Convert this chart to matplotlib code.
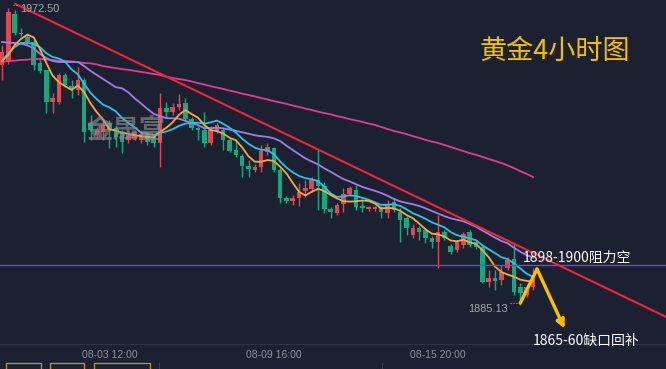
import numpy as np
import pandas as pd
import matplotlib
matplotlib.use("Agg")
import matplotlib.pyplot as plt
from matplotlib import font_manager as fm
from matplotlib.patches import Rectangle
from matplotlib.lines import Line2D

# 黄金 4小时 K线 (价格从图上估读)
opens = [1955.7, 1956.6, 1970.8, 1965.1, 1964.0, 1962.5, 1956.3, 1954.2, 1944.8, 1944.8,
         1952.8, 1949.5, 1948.4, 1951.3, 1938.7, 1935.1, 1936.0, 1938.7, 1937.2, 1935.7,
         1933.7, 1934.2, 1933.7, 1935.1, 1934.5, 1932.8, 1943.1, 1941.9, 1943.4, 1944.5,
         1939.8, 1937.2, 1936.6, 1932.8, 1936.3, 1936.6, 1933.7, 1930.7, 1929.0, 1926.0,
         1924.8, 1925.7, 1930.1, 1931.3, 1924.8, 1916.6, 1915.7, 1916.6, 1918.7, 1919.2,
         1921.9, 1920.1, 1913.4, 1912.2, 1914.8, 1917.8, 1919.0, 1914.2, 1913.4, 1913.4,
         1913.6, 1912.2, 1915.4, 1912.5, 1910.7, 1905.7, 1907.8, 1907.2, 1904.8, 1903.6,
         1906.6, 1902.5, 1901.3, 1902.8, 1906.6, 1903.6, 1902.2, 1891.9, 1893.1, 1892.5,
         1896.0, 1898.6, 1890.4, 1888.1, 1890.4]
highs = [1961.6, 1972.5, 1972.0, 1966.6, 1965.1, 1963.1, 1957.2, 1954.4, 1947.5, 1953.4,
         1953.4, 1951.3, 1955.1, 1951.9, 1941.0, 1937.5, 1939.5, 1939.5, 1938.1, 1936.6,
         1935.7, 1936.6, 1936.6, 1936.0, 1935.4, 1947.5, 1944.8, 1944.5, 1947.2, 1946.0,
         1940.4, 1937.8, 1941.9, 1937.8, 1938.7, 1937.2, 1934.2, 1933.7, 1929.5, 1927.8,
         1926.6, 1932.2, 1932.8, 1931.6, 1925.4, 1917.2, 1917.5, 1921.0, 1921.9, 1922.8,
         1930.7, 1921.3, 1913.9, 1915.1, 1919.5, 1920.1, 1920.4, 1916.0, 1914.2, 1914.2,
         1914.2, 1916.0, 1916.6, 1913.6, 1911.3, 1909.0, 1908.4, 1907.8, 1905.4, 1911.6,
         1907.2, 1903.1, 1904.2, 1906.6, 1907.2, 1904.2, 1902.8, 1895.4, 1895.4, 1896.9,
         1899.2, 1903.4, 1891.6, 1891.0, 1896.0]
lows = [1951.3, 1956.0, 1964.5, 1964.3, 1961.6, 1954.2, 1953.4, 1941.6, 1941.6, 1944.2,
        1949.2, 1946.0, 1946.9, 1933.1, 1933.7, 1934.2, 1933.7, 1931.3, 1931.6, 1929.8,
        1932.8, 1933.7, 1932.8, 1932.2, 1931.6, 1925.7, 1940.1, 1941.0, 1942.5, 1939.2,
        1936.6, 1933.7, 1931.6, 1932.2, 1935.7, 1930.7, 1930.1, 1928.7, 1922.8, 1922.8,
        1924.2, 1924.2, 1929.2, 1924.2, 1915.1, 1915.1, 1914.5, 1914.2, 1916.9, 1918.4,
        1913.1, 1912.2, 1910.7, 1911.6, 1912.5, 1917.2, 1913.1, 1912.5, 1912.8, 1912.8,
        1910.7, 1910.7, 1912.5, 1903.6, 1905.7, 1904.8, 1904.2, 1903.4, 1901.9, 1896.0,
        1904.2, 1900.1, 1900.7, 1901.9, 1902.2, 1901.6, 1891.6, 1890.4, 1889.5, 1891.0,
        1895.4, 1888.1, 1885.13, 1887.5, 1889.5]
closes = [1959.5, 1971.3, 1965.1, 1964.8, 1962.5, 1955.7, 1954.0, 1944.8, 1946.0, 1952.8,
          1949.8, 1948.6, 1951.3, 1936.0, 1936.6, 1936.6, 1938.1, 1936.6, 1934.5, 1933.1,
          1935.1, 1936.0, 1935.4, 1933.1, 1932.8, 1943.1, 1941.9, 1943.4, 1944.2, 1939.8,
          1937.2, 1936.6, 1932.8, 1936.6, 1938.1, 1933.7, 1930.4, 1929.2, 1926.0, 1925.1,
          1925.7, 1930.4, 1931.6, 1924.8, 1916.6, 1915.7, 1916.6, 1918.4, 1919.5, 1921.9,
          1920.1, 1913.4, 1912.5, 1914.5, 1917.8, 1919.5, 1913.9, 1913.6, 1913.9, 1913.9,
          1912.5, 1914.5, 1913.1, 1910.1, 1907.8, 1907.8, 1906.6, 1904.8, 1903.6, 1906.6,
          1904.8, 1900.7, 1903.6, 1906.0, 1902.8, 1902.2, 1891.9, 1893.1, 1892.2, 1894.8,
          1898.4, 1888.9, 1888.6, 1890.4, 1893.9]

# 均线开头几根 (之前的K线不在图内, 直接从图上读)
ma5_head = [1956.9, 1958.7, 1961.6, 1963.4]
ma10_head = [1956.9, 1959.2, 1961.0, 1962.2, 1962.2, 1961.9, 1961.0, 1959.2, 1958.1]
ma20_head = [1962.5, 1962.3, 1962.2, 1962.0, 1961.5, 1960.7, 1959.0, 1957.8, 1956.9, 1956.6,
             1956.6, 1956.6, 1956.6, 1955.4, 1954.0, 1952.8, 1951.6, 1950.4, 1949.2]
# 长期均线 (粉色)
ma_long = [1956.6, 1956.9, 1957.0, 1957.2, 1957.3, 1957.5, 1957.5, 1957.3, 1957.2, 1957.0,
           1956.9, 1956.8, 1956.6, 1956.3, 1956.2, 1955.9, 1955.4, 1955.1, 1954.8, 1954.5,
           1954.3, 1954.0, 1953.7, 1953.4, 1953.1, 1952.8, 1952.3, 1951.9, 1951.6, 1951.3,
           1950.9, 1950.4, 1950.0, 1949.5, 1949.1, 1948.7, 1948.2, 1947.8, 1947.3, 1946.9,
           1946.5, 1946.0, 1945.6, 1945.1, 1944.7, 1944.3, 1943.8, 1943.4, 1942.9, 1942.5,
           1942.0, 1941.6, 1941.2, 1940.7, 1940.3, 1939.8, 1939.4, 1939.0, 1938.5, 1938.1,
           1937.5, 1936.9, 1936.3, 1935.9, 1935.4, 1934.8, 1934.3, 1933.7, 1933.2, 1932.8,
           1932.2, 1931.6, 1931.0, 1930.4, 1929.8, 1929.3, 1928.7, 1928.1, 1927.5, 1926.9,
           1926.2, 1925.4, 1924.5, 1923.7, 1922.8]

tick_pos = [17, 43, 69]
tick_labels = ['08-03 12:00', '08-09 16:00', '08-15 20:00']

trend_x = [2.1, 105.1]          # 下降趋势线
trend_y = [1973.7, 1881.6]
resist = 1897.0                 # 水平阻力线
arrow_x = [82.0, 84.65, 89.0]   # 黄色箭头路径
arrow_y = [1885.7, 1895.7, 1878.2]

bg = '#1b2130'
up_c = '#e04852'
dn_c = '#18a781'

names = {f.name for f in fm.fontManager.ttflist}
narrow = 'Liberation Sans Narrow' if 'Liberation Sans Narrow' in names else 'Liberation Sans'
cjk = ['Noto Sans CJK SC', 'DejaVu Sans']

fig = plt.figure(figsize=(6.66, 3.69), dpi=100, facecolor=bg)
ax = fig.add_axes([0, 25 / 369, 1, 344 / 369])
ax.set_facecolor(bg)

n = len(closes)
x = np.arange(n)
o = np.array(opens)
c = np.array(closes)
cols = [up_c if cc >= oo else dn_c for oo, cc in zip(o, c)]

ax.vlines(x, lows, highs, colors=cols, linewidth=1.0, zorder=2)
body = np.maximum(np.abs(c - o), 0.4)
ax.bar(x, body, bottom=np.minimum(o, c), width=0.72, color=cols, linewidth=0, zorder=3)

s = pd.Series(closes)
ma5 = s.rolling(5).mean().values
ma5[:4] = ma5_head
ma10 = s.rolling(10).mean().values
ma10[:9] = ma10_head
ma20 = s.rolling(20).mean().values
ma20[:19] = ma20_head

ax.plot(x, ma_long, color='#e23c90', lw=1.3, zorder=4)
ax.plot(x, ma20, color='#a07de6', lw=1.3, zorder=4)
ax.plot(x, ma10, color='#2ac3e8', lw=1.3, zorder=4)
ax.plot(x, ma5, color='#f6a93b', lw=1.3, zorder=4)

ax.axhline(resist, color='#6c4fc8', lw=1.0, zorder=4)
ax.plot(trend_x, trend_y, color='#f0243a', lw=1.5, zorder=5)

# 箭头
ax.plot(arrow_x[:2], arrow_y[:2], color='#ffbf00', lw=2.4, zorder=6, solid_capstyle='round')
ax.annotate('', xy=(arrow_x[2], arrow_y[2]), xytext=(arrow_x[1], arrow_y[1]),
            arrowprops=dict(arrowstyle='-|>', color='#ffbf00', lw=2.4, mutation_scale=12,
                            shrinkA=0, shrinkB=0),
            zorder=6, annotation_clip=False)

ax.set_xlim(-0.32, 105.06)
ax.set_ylim(1873.65, 1974.85)

for sp in ax.spines.values():
    sp.set_visible(False)
ax.set_yticks([])
ax.set_xticks(tick_pos)
ax.set_xticklabels(tick_labels, fontsize=7.5, color='#8b909a', family=narrow)
ax.tick_params(axis='x', length=0, pad=4)

# 文字
ax.text(82.4, 1899.0, '1898-1900阻力空', color='white', fontsize=10, family=cjk,
        va='center', ha='left', zorder=7)
ax.text(84.0, 1874.5, '1865-60缺口回补', color='white', fontsize=10, family=cjk,
        va='center', ha='left', zorder=7, clip_on=False)
ax.text(87.4, 1959.8, '黄金4小时图', color='#f5c000', fontsize=19.5, family=cjk,
        va='center', ha='center', zorder=7)
ax.text(19.6, 1936.6, '金晟富', color='#8a8d93', alpha=0.65, fontsize=19, family=cjk,
        fontweight='bold', va='center', ha='center', zorder=8)
ax.text(2.8, 1972.3, '1972.50', color='#a3a8b0', fontsize=7.8, family=narrow,
        va='center', ha='left', zorder=7)
ax.text(80.1, 1883.8, '1885.13', color='#a3a8b0', fontsize=7.8, family=narrow,
        va='center', ha='right', zorder=7)
ax.plot([1.8, 2.6], [1973.3, 1973.3], color='#a3a8b0', lw=0.8, ls=':', zorder=7)
ax.plot([80.3, 81.8], [1885.6, 1885.6], color='#a3a8b0', lw=0.8, ls=':', zorder=7)

# 底部分隔线和按钮
fig.add_artist(Line2D([0, 1], [25 / 369, 25 / 369], color='#2b3442', lw=0.8, zorder=-1))
for bx, bw in [(6, 35), (50, 34), (94, 56)]:
    fig.add_artist(Rectangle((bx / 666, -0.01), bw / 666, 0.026, fill=False,
                             edgecolor='#c8962e', lw=0.9))
for vx in [159, 382]:
    fig.add_artist(Line2D([vx / 666, vx / 666], [0, 6 / 369], color='#3a4250', lw=0.8))

fig.savefig('out.png', dpi=100, facecolor=bg)
